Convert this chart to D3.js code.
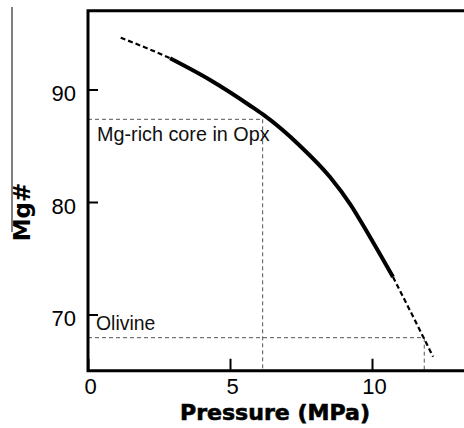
<!DOCTYPE html>
<html>
<head>
<meta charset="utf-8">
<script src="https://cdn.jsdelivr.net/npm/d3@7"></script>
<style>
  html, body { margin: 0; padding: 0; background: #fff; }
  svg { display: block; }
</style>
</head>
<body>
<svg id="chart" width="464" height="428"></svg>
<script>
// ---- data ----
const curveUpperDashedP  = [1.15, 2.18, 2.89];
const curveUpperDashedMg = [94.60, 93.56, 92.77];
const curveSolidP  = [2.89, 4.30, 5.70, 6.16, 7.47, 8.52, 9.23, 9.93, 10.74];
const curveSolidMg = [92.77, 90.84, 88.58, 87.78, 84.98, 82.22, 79.82, 76.89, 73.33];
const curveLowerDashedP  = [10.74, 11.80, 12.15];
const curveLowerDashedMg = [73.33, 68.03, 66.25];

const xTicks = [0, 5, 10];
const yTicks = [70, 80, 90];

const opxCore = { p: 6.15, mg: 87.35, label: "Mg-rich core in Opx" };
const olivine = { p: 11.84, mg: 67.94, label: "Olivine" };

const xTitle = "Pressure (MPa)";
const yTitle = "Mg#";

// ---- layout ----
const svg = d3.select("#chart");
const x = d3.scaleLinear().domain([0, 14]).range([88, 88 + 14 * 28.4]);
const y = d3.scaleLinear().domain([65, 97]).range([370.75, 10.75]);

const zip = (a, b) => a.map((v, i) => [v, b[i]]);
const line = d3.line().x(d => x(d[0])).y(d => y(d[1])).curve(d3.curveMonotoneX);

// reference dashed lines
const ref = svg.append("g").attr("stroke", "#555").attr("stroke-width", 1)
  .attr("stroke-dasharray", "4,3").attr("fill", "none");
ref.append("line").attr("x1", x(0)).attr("x2", x(opxCore.p))
  .attr("y1", y(opxCore.mg)).attr("y2", y(opxCore.mg));
ref.append("line").attr("x1", x(opxCore.p)).attr("x2", x(opxCore.p))
  .attr("y1", y(opxCore.mg)).attr("y2", y(65));
ref.append("line").attr("x1", x(0)).attr("x2", x(olivine.p))
  .attr("y1", y(olivine.mg)).attr("y2", y(olivine.mg));
ref.append("line").attr("x1", x(olivine.p)).attr("x2", x(olivine.p))
  .attr("y1", y(olivine.mg)).attr("y2", y(65));

// curve
svg.append("path").datum(zip(curveUpperDashedP, curveUpperDashedMg))
  .attr("d", line).attr("fill", "none").attr("stroke", "#000")
  .attr("stroke-width", 2.2).attr("stroke-dasharray", "5,3");
svg.append("path").datum(zip(curveSolidP, curveSolidMg))
  .attr("d", line).attr("fill", "none").attr("stroke", "#000")
  .attr("stroke-width", 4);
svg.append("path").datum(zip(curveLowerDashedP, curveLowerDashedMg))
  .attr("d", line).attr("fill", "none").attr("stroke", "#000")
  .attr("stroke-width", 2.2).attr("stroke-dasharray", "5,3");

// frame: left axis, top border, bottom axis
const frame = svg.append("g").attr("stroke", "#000").attr("stroke-width", 3).attr("fill", "none");
frame.append("path").attr("d", `M${x(14)},${y(97)}H${x(0)}V${y(65)}H${x(14)}`);

// x axis ticks (inward)
const xAxis = d3.axisBottom(x).tickValues(xTicks).tickSizeInner(-12).tickSizeOuter(0).tickPadding(16);
const gx = svg.append("g").attr("transform", `translate(0,${y(65)})`).call(xAxis);
gx.select(".domain").remove();
gx.selectAll(".tick line").attr("stroke", "#000").attr("stroke-width", 2);
gx.selectAll(".tick text").attr("font-family", "Liberation Sans, Arial, sans-serif")
  .attr("font-size", 22).attr("fill", "#000").attr("dy", null).attr("y", 23).attr("dx", 2);

// y axis ticks (inward)
const yAxis = d3.axisLeft(y).tickValues(yTicks).tickSizeInner(-10).tickSizeOuter(0).tickPadding(12);
const gy = svg.append("g").attr("transform", `translate(${x(0)},0)`).call(yAxis);
gy.select(".domain").remove();
gy.selectAll(".tick line").attr("stroke", "#000").attr("stroke-width", 2);
gy.selectAll(".tick text").attr("font-family", "Liberation Sans, Arial, sans-serif")
  .attr("font-size", 22).attr("fill", "#000").attr("x", -12).attr("dy", "0.5em");

// annotations
svg.append("text").attr("x", x(0) + 9).attr("y", y(opxCore.mg) + 22)
  .attr("font-family", "Liberation Sans, Arial, sans-serif").attr("font-size", 19.8)
  .attr("fill", "#111").text(opxCore.label);
svg.append("text").attr("x", x(0) + 8).attr("y", y(olivine.mg) - 8)
  .attr("font-family", "Liberation Sans, Arial, sans-serif").attr("font-size", 19.4)
  .attr("fill", "#111").text(olivine.label);

// axis titles
svg.append("text").attr("x", 180).attr("y", 420)
  .attr("font-family", "DejaVu Sans, sans-serif").attr("font-weight", "bold")
  .attr("font-size", 21).attr("textLength", 190).attr("lengthAdjust", "spacingAndGlyphs")
  .attr("fill", "#000").attr("stroke", "#000").attr("stroke-width", 0.6).text(xTitle);
svg.append("text").attr("transform", "translate(30,212) rotate(-90)")
  .attr("text-anchor", "middle")
  .attr("font-family", "DejaVu Sans, sans-serif").attr("font-weight", "bold")
  .attr("font-size", 23).attr("fill", "#000").text(yTitle);

// stray thin vertical line at far left
svg.append("line").attr("x1", 12).attr("x2", 12).attr("y1", 7).attr("y2", 232)
  .attr("stroke", "#000").attr("stroke-width", 1);
</script>
</body>
</html>
